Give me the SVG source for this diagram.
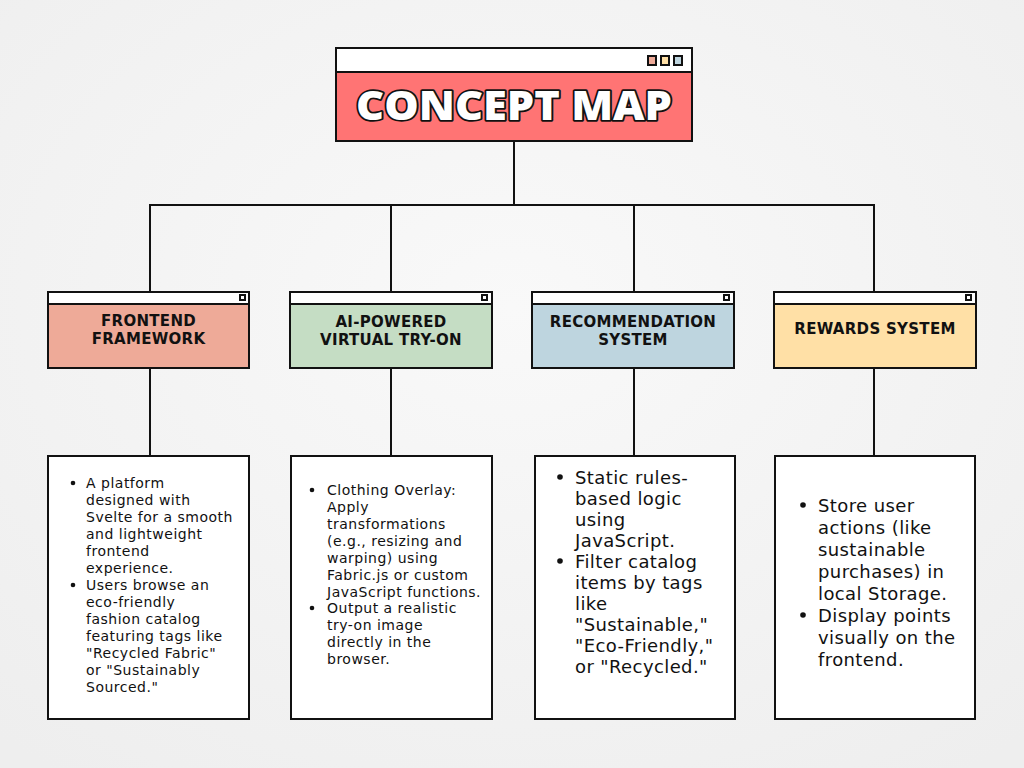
<svg xmlns="http://www.w3.org/2000/svg" width="1024" height="768" viewBox="0 0 1024 768">
<defs>
<style>
.ln{fill:none;stroke:#111;stroke-width:2}
.bx{stroke:#111;stroke-width:2}
.hd{font-family:"DejaVu Sans","Liberation Sans",sans-serif;font-weight:700;font-size:15px;letter-spacing:0.3px;fill:#111;text-anchor:middle}
.tx{font-family:"DejaVu Sans","Liberation Sans",sans-serif;font-size:14px;letter-spacing:0.5px;fill:#111}
.tb{font-family:"DejaVu Sans","Liberation Sans",sans-serif;font-size:18px;letter-spacing:0.4px;fill:#111}
.title{font-family:"Open Sans","Liberation Sans",sans-serif;font-weight:800;font-size:40px;fill:#fff;stroke:#111;stroke-width:3.5;paint-order:stroke;stroke-linejoin:round;text-anchor:middle}
</style>
<radialGradient id="bg" cx="50%" cy="40%" r="75%">
<stop offset="0" stop-color="#f9f9f9"/>
<stop offset="1" stop-color="#eeeeee"/>
</radialGradient>
</defs>
<rect width="1024" height="768" fill="url(#bg)"/>

<g id="connectors">
<path class="ln" d="M514 141V205M150 205H874M150 204V292M391 204V292M634 204V292M874 204V292"/>
<path class="ln" d="M150 368V456M391 368V456M634 368V456M874 368V456"/>
</g>

<g id="title">
<rect class="bx" x="336" y="48" width="356" height="93" fill="#FF7474"/>
<rect class="bx" x="336" y="48" width="356" height="24" fill="#fff"/>
<rect class="bx" x="648" y="56" width="8" height="9" fill="#EEAA98" stroke-width="1.5"/>
<rect class="bx" x="661" y="56" width="8" height="9" fill="#FFE0A6" stroke-width="1.5"/>
<rect class="bx" x="674" y="56" width="8" height="9" fill="#BED5DF" stroke-width="1.5"/>
<text class="title" x="514" y="120" textLength="316" lengthAdjust="spacingAndGlyphs">CONCEPT MAP</text>
</g>

<g id="h1">
<rect class="bx" x="48" y="292" width="201" height="76" fill="#EEAA98"/>
<rect class="bx" x="48" y="292" width="201" height="12" fill="#fff"/>
<rect class="bx" x="240" y="295" width="5" height="5" fill="#fff" stroke-width="1.5"/>
<text class="hd" x="148.5" y="326">FRONTEND</text>
<text class="hd" x="148.5" y="344">FRAMEWORK</text>
</g>
<g id="h2">
<rect class="bx" x="290" y="292" width="202" height="76" fill="#C5DDC4"/>
<rect class="bx" x="290" y="292" width="202" height="12" fill="#fff"/>
<rect class="bx" x="482" y="295" width="5" height="5" fill="#fff" stroke-width="1.5"/>
<text class="hd" x="391" y="327">AI-POWERED</text>
<text class="hd" x="391" y="345">VIRTUAL TRY-ON</text>
</g>
<g id="h3">
<rect class="bx" x="532" y="292" width="202" height="76" fill="#BED5DF"/>
<rect class="bx" x="532" y="292" width="202" height="12" fill="#fff"/>
<rect class="bx" x="724" y="295" width="5" height="5" fill="#fff" stroke-width="1.5"/>
<text class="hd" x="633" y="327">RECOMMENDATION</text>
<text class="hd" x="633" y="345">SYSTEM</text>
</g>
<g id="h4">
<rect class="bx" x="774" y="292" width="202" height="76" fill="#FFE0A6"/>
<rect class="bx" x="774" y="292" width="202" height="12" fill="#fff"/>
<rect class="bx" x="966" y="295" width="5" height="5" fill="#fff" stroke-width="1.5"/>
<text class="hd" x="875" y="334">REWARDS SYSTEM</text>
</g>

<g id="d1">
<rect class="bx" x="48" y="456" width="201" height="263" fill="#fff"/>
<g class="tx">
<circle cx="73" cy="483" r="2.3" fill="#111"/>
<text x="86" y="488">A platform</text>
<text x="86" y="505">designed with</text>
<text x="86" y="522">Svelte for a smooth</text>
<text x="86" y="539">and lightweight</text>
<text x="86" y="556">frontend</text>
<text x="86" y="573">experience.</text>
<circle cx="73" cy="585" r="2.3" fill="#111"/>
<text x="86" y="590">Users browse an</text>
<text x="86" y="607">eco-friendly</text>
<text x="86" y="624">fashion catalog</text>
<text x="86" y="641">featuring tags like</text>
<text x="86" y="658">"Recycled Fabric"</text>
<text x="86" y="675">or "Sustainably</text>
<text x="86" y="692">Sourced."</text>
</g>
</g>

<g id="d2">
<rect class="bx" x="291" y="456" width="201" height="263" fill="#fff"/>
<g class="tx">
<circle cx="312" cy="490" r="2.3" fill="#111"/>
<text x="327" y="495">Clothing Overlay:</text>
<text x="327" y="512">Apply</text>
<text x="327" y="529">transformations</text>
<text x="327" y="546">(e.g., resizing and</text>
<text x="327" y="563">warping) using</text>
<text x="327" y="580">Fabric.js or custom</text>
<text x="327" y="597">JavaScript functions.</text>
<circle cx="312" cy="608" r="2.3" fill="#111"/>
<text x="327" y="613">Output a realistic</text>
<text x="327" y="630">try-on image</text>
<text x="327" y="647">directly in the</text>
<text x="327" y="664">browser.</text>
</g>
</g>

<g id="d3">
<rect class="bx" x="535" y="456" width="200" height="263" fill="#fff"/>
<g class="tb">
<circle cx="560" cy="477" r="2.8" fill="#111"/>
<text x="575" y="484">Static rules-</text>
<text x="575" y="505">based logic</text>
<text x="575" y="526">using</text>
<text x="575" y="547">JavaScript.</text>
<circle cx="560" cy="561" r="2.8" fill="#111"/>
<text x="575" y="568">Filter catalog</text>
<text x="575" y="589">items by tags</text>
<text x="575" y="610">like</text>
<text x="575" y="631">"Sustainable,"</text>
<text x="575" y="652">"Eco-Friendly,"</text>
<text x="575" y="673">or "Recycled."</text>
</g>
</g>

<g id="d4">
<rect class="bx" x="775" y="456" width="200" height="263" fill="#fff"/>
<g class="tb">
<circle cx="803" cy="505" r="2.8" fill="#111"/>
<text x="818" y="512">Store user</text>
<text x="818" y="534">actions (like</text>
<text x="818" y="556">sustainable</text>
<text x="818" y="578">purchases) in</text>
<text x="818" y="600">local Storage.</text>
<circle cx="803" cy="615" r="2.8" fill="#111"/>
<text x="818" y="622">Display points</text>
<text x="818" y="644">visually on the</text>
<text x="818" y="666">frontend.</text>
</g>
</g>
</svg>
